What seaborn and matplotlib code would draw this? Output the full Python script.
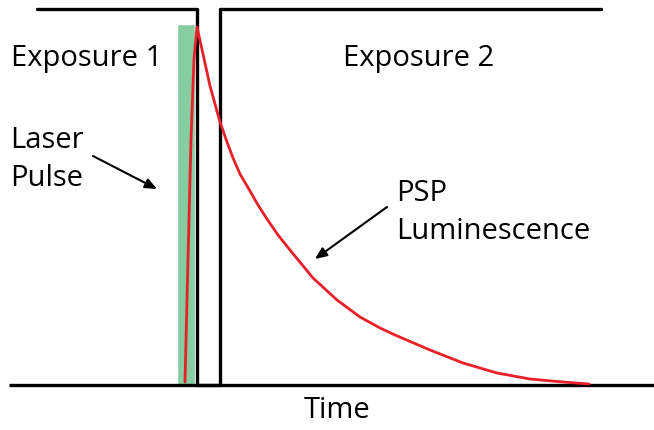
import matplotlib
matplotlib.use("Agg")
import matplotlib.pyplot as plt
import seaborn as sns
import pandas as pd

# time axis in pixel-like units, signal as height above the baseline
gate_time = [37, 197, 197, 220, 220, 601]
gate_level = [376, 376, 0, 0, 376, 376]

lum_time = [185, 188, 191, 194, 197, 203, 210, 220, 227, 233, 240, 250, 258, 267,
            278, 290, 313, 337, 360, 380, 395, 430, 463, 497, 530, 563, 589]
lum_level = [3, 126, 246, 326, 358, 331, 299, 263, 243, 227, 211, 194, 180, 166,
             150, 135, 107, 85, 68, 57, 50, 35, 22, 12, 6, 3, 1]

pulse_start, pulse_end, pulse_height = 177, 195, 361

sns.set_style("white")
plt.rcParams['font.family'] = ['Open Sans', 'DejaVu Sans']

fig = plt.figure(figsize=(6.54, 4.31), dpi=100)
ax = fig.add_axes([0, 0, 1, 1])

# laser pulse
ax.bar((pulse_start + pulse_end) / 2, pulse_height, width=pulse_end - pulse_start,
       bottom=0, color='#88cca1', zorder=1)

# baseline (time axis)
ax.plot([9, 654], [0, 0], color='black', lw=2.4, solid_capstyle='butt', zorder=2)

# camera exposure gate
gate = pd.DataFrame({'t': gate_time, 'v': gate_level})
sns.lineplot(data=gate, x='t', y='v', sort=False, estimator=None, errorbar=None,
             color='black', lw=2.4, ax=ax, zorder=3)

# PSP luminescence
lum = pd.DataFrame({'t': lum_time, 'v': lum_level})
sns.lineplot(data=lum, x='t', y='v', sort=False, estimator=None, errorbar=None,
             color='#e8202a', lw=2.0, ax=ax, zorder=4)

fs = 21
txt = dict(va='baseline', fontsize=fs, color='black')
ax.text(87, 320, 'Exposure 1', ha='center', **txt)
ax.text(419, 320, 'Exposure 2', ha='center', **txt)
ax.text(10, 238, 'Laser', ha='left', **txt)
ax.text(10, 200, 'Pulse', ha='left', **txt)
ax.text(396, 185, 'PSP', ha='left', **txt)
ax.text(396, 147, 'Luminescence', ha='left', **txt)
ax.text(337, -32, 'Time', ha='center', **txt)

arrow = dict(arrowstyle='-|>,head_length=0.7,head_width=0.3', color='black', lw=1.5,
             shrinkA=0, shrinkB=0)
ax.annotate('', xy=(157, 196), xytext=(93, 229), arrowprops=arrow)
ax.annotate('', xy=(315, 126), xytext=(387, 178), arrowprops=arrow)

ax.set_xlim(0, 654)
ax.set_ylim(-45, 386)
ax.set_axis_off()

fig.savefig('out.png', dpi=100)
